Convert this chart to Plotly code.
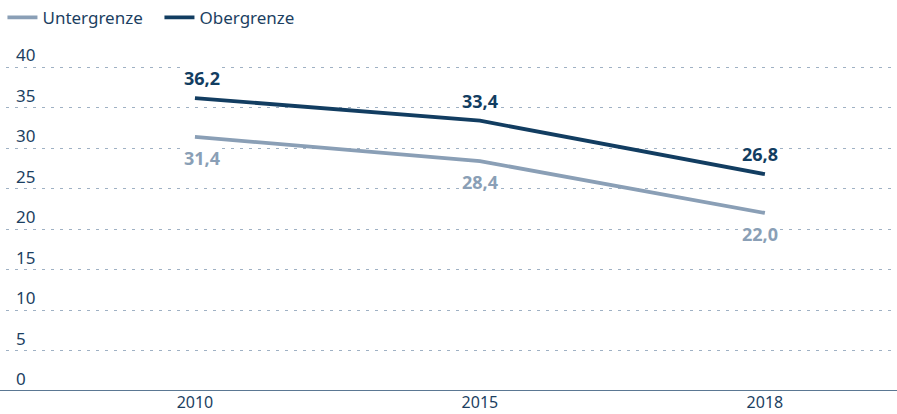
import plotly.graph_objects as go

years = ["2010", "2015", "2018"]
untergrenze = [31.4, 28.4, 22.0]
obergrenze = [36.2, 33.4, 26.8]
y_ticks = [0, 5, 10, 15, 20, 25, 30, 35, 40]

dark = "#123d61"
light = "#8a9fb6"
text_col = "#1c3f62"
font_family = "Noto Sans"
label_xshift = [7, 0, -5]

def fmt(v):
    return f"{v:.1f}".replace(".", ",")

fig = go.Figure()
fig.add_trace(go.Scatter(x=years, y=untergrenze, name="Untergrenze", mode="lines",
                         line=dict(color=light, width=3.8)))
fig.add_trace(go.Scatter(x=years, y=obergrenze, name="Obergrenze", mode="lines",
                         line=dict(color=dark, width=3.8)))

for i, v in enumerate(obergrenze):
    fig.add_annotation(x=i, y=v, xref="x", yref="y", text=fmt(v), showarrow=False,
                       yshift=20, xshift=label_xshift[i],
                       font=dict(family=font_family, size=18, color=dark, weight="bold"),
                       bgcolor="white", borderpad=0)
for i, v in enumerate(untergrenze):
    fig.add_annotation(x=i, y=v, xref="x", yref="y", text=fmt(v), showarrow=False,
                       yshift=-21, xshift=label_xshift[i],
                       font=dict(family=font_family, size=18, color=light, weight="bold"),
                       bgcolor="white", borderpad=0)

# bottom axis line spanning full width
fig.add_shape(type="line", xref="paper", yref="y", x0=-0.01, x1=1.01, y0=0, y1=0,
              line=dict(color="#5b7893", width=2))

fig.update_layout(
    width=897, height=414,
    margin=dict(l=6, r=5, t=39, b=23, autoexpand=False),
    paper_bgcolor="white", plot_bgcolor="white",
    font=dict(family=font_family, size=17, color=text_col),
    showlegend=True,
    legend=dict(orientation="h", x=-0.004, y=1.06, xanchor="left", yanchor="middle",
                yref="paper", font=dict(size=17, color=text_col),
                itemwidth=30, entrywidth=112, entrywidthmode="pixels",
                tracegroupgap=0, bgcolor="rgba(0,0,0,0)"),
    xaxis=dict(type="category", range=[-0.663, 2.446], showgrid=False, zeroline=False,
               showline=False, ticks="", tickfont=dict(size=16, color=text_col)),
    yaxis=dict(range=[0, 43.5], tickvals=y_ticks, ticktext=[str(t) for t in y_ticks],
               ticklabelposition="inside top", ticklabelstandoff=7, showgrid=True,
               gridcolor="#9fb1c4", gridwidth=1, griddash="3px,6px", zeroline=False,
               showline=False, ticks="", tickfont=dict(size=17, color=text_col)),
)

fig.write_html("out.html", config={"displayModeBar": False},
               post_script="document.body.style.margin='0';")
